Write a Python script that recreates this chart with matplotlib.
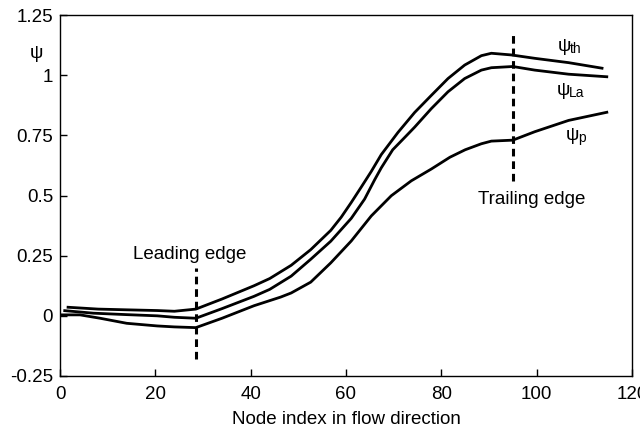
import matplotlib
matplotlib.use("Agg")
import matplotlib.pyplot as plt

plt.rcParams['font.family'] = ['Liberation Sans', 'DejaVu Sans']

# Node index positions and values
x_th = [1.4, 8, 14, 20.4, 24, 28.5, 34, 40.7, 44, 48.5, 52.6, 56.8, 59, 61.1, 63.2, 65.3, 67.4, 70.9, 74.4, 77.9, 81.4, 84.9, 88.4, 90.5, 94.7, 99.6, 106.7, 114]
psi_th = [0.036, 0.028, 0.025, 0.022, 0.019, 0.028, 0.07, 0.125, 0.155, 0.21, 0.275, 0.355, 0.41, 0.471, 0.535, 0.60, 0.67, 0.762, 0.845, 0.916, 0.986, 1.042, 1.081, 1.091, 1.084, 1.070, 1.052, 1.028]

x_la = [0.7, 7, 14, 20.4, 24, 28.5, 34, 40.7, 44, 48.5, 52.6, 56.8, 61.1, 63.9, 66, 67.4, 69.8, 72.5, 74.4, 77.9, 81.4, 84.9, 88.4, 90.5, 95, 99.6, 106.7, 115]
psi_la = [0.022, 0.011, 0.005, 0.0, -0.006, -0.01, 0.03, 0.081, 0.11, 0.165, 0.235, 0.31, 0.405, 0.485, 0.565, 0.615, 0.69, 0.745, 0.784, 0.861, 0.931, 0.986, 1.021, 1.031, 1.036, 1.021, 1.004, 0.993]

x_p = [0, 4.2, 8.4, 14, 20.4, 24, 28.5, 34, 40.7, 46.3, 48.5, 52.6, 56.8, 61.1, 65.3, 69.5, 73.7, 77.9, 81.8, 85, 88.4, 90.5, 95, 99.6, 106.7, 115]
psi_p = [0.004, 0.004, -0.01, -0.031, -0.042, -0.046, -0.049, -0.01, 0.042, 0.078, 0.095, 0.14, 0.22, 0.311, 0.415, 0.499, 0.561, 0.61, 0.659, 0.69, 0.715, 0.726, 0.730, 0.765, 0.812, 0.847]

leading_x = 28.5
leading_y = [-0.18, 0.2]
trailing_x = 95
trailing_y = [0.56, 1.17]

xticks = [0, 20, 40, 60, 80, 100, 120]
yticks = [-0.25, 0, 0.25, 0.5, 0.75, 1, 1.25]
ytick_labels = ['-0.25', '0', '0.25', '0.5', '0.75', '1', '1.25']

fig = plt.figure(figsize=(6.4, 4.3), dpi=100)
ax = fig.add_axes([60/640, 1-376/430, (632-60)/640, (376-15)/430])

lw = 2.0
for xs, ys in ((x_th, psi_th), (x_la, psi_la), (x_p, psi_p)):
    ax.plot(xs, ys, color='black', lw=lw, solid_capstyle='butt', solid_joinstyle='round')

ax.plot([leading_x, leading_x], leading_y, color='black', lw=2.2, dashes=(2.5, 1.6))
ax.plot([trailing_x, trailing_x], trailing_y, color='black', lw=2.2, dashes=(2.5, 1.6))

fs = 13.5
ax.text(27.2, 0.255, 'Leading edge', ha='center', va='center', fontsize=fs)
ax.text(98.9, 0.482, 'Trailing edge', ha='center', va='center', fontsize=fs)
sub = 10
ax.text(104.4, 1.119, 'ψ', ha='left', va='center', fontsize=fs)
ax.text(106.9, 1.108, 'th', ha='left', va='center', fontsize=sub)
ax.text(104.2, 0.937, 'ψ', ha='left', va='center', fontsize=fs)
ax.text(106.7, 0.926, 'La', ha='left', va='center', fontsize=sub)
ax.text(106.2, 0.749, 'ψ', ha='left', va='center', fontsize=fs)
ax.text(108.7, 0.738, 'p', ha='left', va='center', fontsize=sub)

ax.set_xlim(0, 120)
ax.set_ylim(-0.25, 1.25)
ax.set_xticks(xticks)
ax.set_yticks(yticks)
ax.set_yticklabels(ytick_labels)
ax.tick_params(direction='in', length=5, width=1, labelsize=fs)
ax.tick_params(axis='x', pad=7)
ax.tick_params(axis='y', pad=5)
for s in ax.spines.values():
    s.set_linewidth(1.0)

ax.set_xlabel('Node index in flow direction', fontsize=fs, labelpad=6)
fig.text(36/640, 1-53/430, 'ψ', ha='center', va='center', fontsize=fs)

fig.savefig('out.png', dpi=100)
